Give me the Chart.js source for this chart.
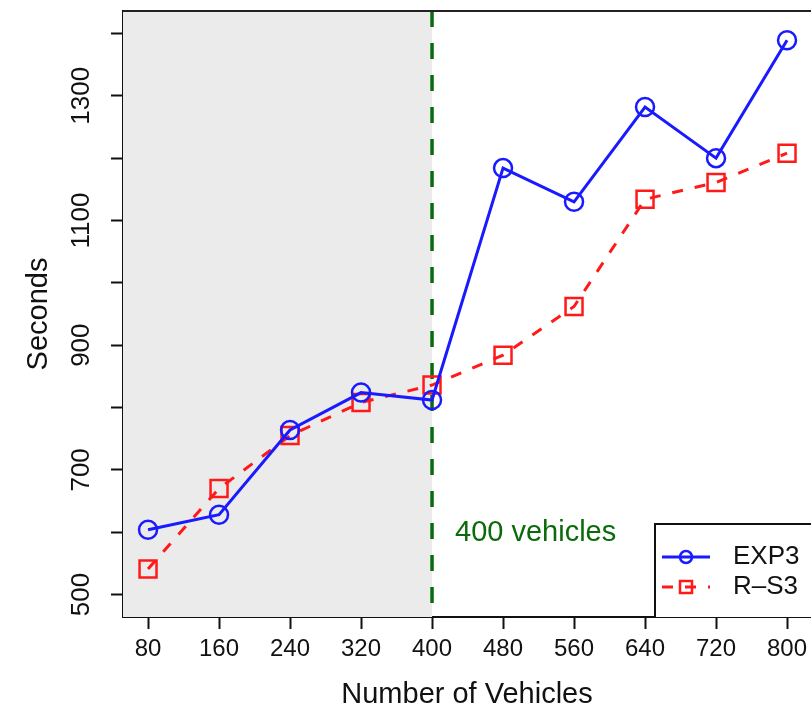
<!DOCTYPE html>
<html><head><meta charset="utf-8">
<script src="https://cdn.jsdelivr.net/npm/chart.js@4.4.0/dist/chart.umd.min.js"></script>
<style>html,body{margin:0;padding:0;background:#fff;}</style>
</head><body>
<canvas id="c" width="811" height="711" style="display:block;width:811px;height:711px"></canvas>
<script>
const vehicles = [80, 160, 240, 320, 400, 480, 560, 640, 720, 800];
const exp3 = [604, 628, 764, 824, 812, 1184, 1130, 1282, 1200, 1389];
const rs3 = [541, 670, 755, 808, 836, 884, 962, 1134, 1161, 1208];
const yTicks = [500, 600, 700, 800, 900, 1000, 1100, 1200, 1300, 1400];
const yLabeled = [500, 700, 900, 1100, 1300];
const xTicks = [80, 160, 240, 320, 400, 480, 560, 640, 720, 800];
const seriesNames = ['EXP3', 'R\u2013S3'];
const thresholdVehicles = 400;
const annotationText = '400 vehicles';

const FONT = '"Liberation Sans", Arial, Helvetica, sans-serif';

function zeroPad(s) { s.paddingLeft = 0; s.paddingRight = 0; s.paddingTop = 0; s.paddingBottom = 0; }

const overlay = {
  id: 'overlay',
  beforeDatasetsDraw(chart) {
    const {ctx, chartArea: a, scales: {x}} = chart;
    const xp = x.getPixelForValue(thresholdVehicles);
    ctx.save();
    ctx.fillStyle = '#ebebeb';
    ctx.fillRect(a.left, a.top, xp - a.left, a.bottom - a.top);
    ctx.strokeStyle = '#0b6b0b';
    ctx.lineWidth = 3.5;
    ctx.setLineDash([16, 16]);
    ctx.beginPath();
    ctx.moveTo(xp, a.top);
    ctx.lineTo(xp, a.bottom);
    ctx.stroke();
    ctx.restore();
  },
  afterDraw(chart) {
    const {ctx, chartArea: a, scales: {x, y}} = chart;
    const xp = x.getPixelForValue(thresholdVehicles);
    ctx.save();
    ctx.strokeStyle = '#222';
    ctx.lineWidth = 2;
    ctx.beginPath();
    ctx.moveTo(a.left, a.top);
    ctx.lineTo(a.right, a.top);
    ctx.stroke();
    ctx.fillStyle = '#0b6b0b';
    ctx.font = '29px ' + FONT;
    ctx.textAlign = 'left';
    ctx.textBaseline = 'middle';
    ctx.fillText(annotationText, xp + 23, 533);
    const lx = 655, ly = 524;
    ctx.fillStyle = '#fff';
    ctx.fillRect(lx, ly, a.right - lx + 10, a.bottom - ly);
    ctx.strokeStyle = '#111';
    ctx.lineWidth = 2;
    ctx.beginPath();
    ctx.moveTo(lx, a.bottom);
    ctx.lineTo(lx, ly);
    ctx.lineTo(a.right + 5, ly);
    ctx.stroke();
    const ds = chart.data.datasets;
    const rows = [557, 587];
    ds.forEach((d, i) => {
      const yy = rows[i];
      ctx.strokeStyle = d.borderColor;
      ctx.lineWidth = 3;
      ctx.setLineDash(d.borderDash || []);
      ctx.beginPath();
      ctx.moveTo(662, yy);
      ctx.lineTo(710, yy);
      ctx.stroke();
      ctx.setLineDash([]);
      ctx.lineWidth = 2.5;
      ctx.beginPath();
      if (d.pointStyle === 'circle') {
        ctx.arc(686, yy, 6, 0, Math.PI * 2);
      } else {
        ctx.rect(680, yy - 6, 12, 12);
      }
      ctx.stroke();
      ctx.fillStyle = '#111';
      ctx.font = '26px ' + FONT;
      ctx.textAlign = 'left';
      ctx.textBaseline = 'middle';
      ctx.fillText(d.label, 733, yy);
    });
    ctx.restore();
  }
};

new Chart(document.getElementById('c'), {
  type: 'line',
  data: {
    datasets: [
      {
        label: seriesNames[0],
        data: vehicles.map((v, i) => ({x: v, y: exp3[i]})),
        borderColor: '#1a1aff',
        borderWidth: 3,
        pointStyle: 'circle',
        pointRadius: 9,
        pointBorderWidth: 2.5,
        pointBackgroundColor: 'rgba(0,0,0,0)',
        pointBorderColor: '#1a1aff',
        tension: 0,
        fill: false
      },
      {
        label: seriesNames[1],
        data: vehicles.map((v, i) => ({x: v, y: rs3[i]})),
        borderColor: '#ff1a1a',
        borderWidth: 3,
        borderDash: [11, 12],
        pointStyle: 'rect',
        pointRadius: 12,
        pointBorderWidth: 2.5,
        pointBackgroundColor: 'rgba(0,0,0,0)',
        pointBorderColor: '#ff1a1a',
        tension: 0,
        fill: false
      }
    ]
  },
  options: {
    responsive: false,
    animation: false,
    devicePixelRatio: 1,
    layout: {autoPadding: false, padding: {top: 11, right: 0, left: 0, bottom: 0}},
    plugins: {legend: {display: false}, tooltip: {enabled: false}},
    scales: {
      x: {
        type: 'linear',
        min: 51.8,
        max: 827,
        afterBuildTicks(s) { s.ticks = xTicks.map(v => ({value: v})); },
        afterFit(s) { s.height = 94; zeroPad(s); },
        grid: {drawOnChartArea: false, tickLength: 12, tickColor: '#111', tickWidth: 2},
        border: {display: true, color: '#111', width: 2},
        ticks: {color: '#111', font: {family: FONT, size: 24}, padding: 6, maxRotation: 0, autoSkip: false},
        title: {display: true, text: 'Number of Vehicles', color: '#111', font: {family: FONT, size: 29}, padding: {top: 0, bottom: -1}}
      },
      y: {
        type: 'linear',
        min: 464,
        max: 1436,
        afterBuildTicks(s) { s.ticks = yTicks.map(v => ({value: v})); },
        afterFit(s) { s.width = 123; zeroPad(s); },
        grid: {drawOnChartArea: false, tickLength: 12, tickColor: '#111', tickWidth: 2},
        border: {display: true, color: '#111', width: 2},
        ticks: {
          color: '#111', font: {family: FONT, size: 26}, padding: 0,
          minRotation: 90, maxRotation: 90, crossAlign: 'center', autoSkip: false,
          callback: (v) => yLabeled.includes(v) ? String(v) : ''
        },
        title: {display: true, text: 'Seconds', color: '#111', font: {family: FONT, size: 29}, padding: {top: 22, bottom: 0}}
      }
    }
  },
  plugins: [overlay]
});
</script>
</body></html>
